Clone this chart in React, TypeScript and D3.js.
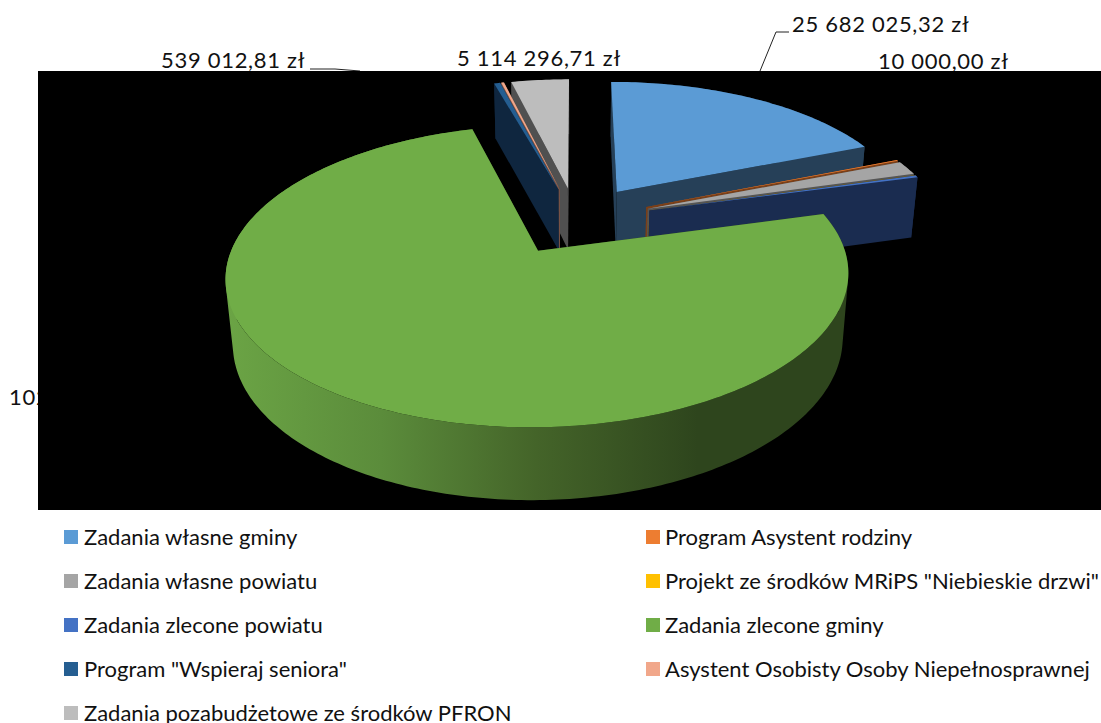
import * as d3 from "d3";

const names = [
  "Zadania własne gminy",
  "Program Asystent rodziny",
  "Zadania własne powiatu",
  'Projekt ze środków MRiPS "Niebieskie drzwi"',
  "Zadania zlecone powiatu",
  "Zadania zlecone gminy",
  'Program "Wspieraj seniora"',
  "Asystent Osobisty Osoby Niepełnosprawnej",
  "Zadania pozabudżetowe ze środków PFRON",
];
const values = [25682025.32, 150000, 2200000, 10000, 300000, 102000000, 539012.81, 250000, 5114296.71];
const topColors = ["#5B9BD5", "#ED7D31", "#A5A5A5", "#FFC000", "#4472C4", "#70AD47", "#255E91", "#F1A78A", "#BDBDBD"];
const wallColors = ["#264058", "#7A3F18", "#555555", "#7F6000", "#1A2C50", "#2E451D", "#0F263F", "#7A5345", "#505050"];
const explodeBy = [0.255, 0.26, 0.26, 0.26, 0.26, 0.25, 0.24, 0.24, 0.24];
// back to front, the big slice goes last
const drawOrder = [0, 1, 2, 3, 4, 8, 7, 6, 5];
// which slices carry a visible data label, and where the text starts
const labelIdx = [0, 3, 5, 6, 8];
const labelX = [792, 878, 9, 161, 457];
const labelY = [32, 69, 405, 68, 66];

const W = 1101;
const H = 723;
const plot = { x: 38, y: 71, w: 1063, h: 439 };

// perspective projection of the tilted pie, radius = 1
const cx = 576, cy = 220, kx = 296, ky = 136.5, persp = 0.163, depth = 64, sink = 0.02;
function project(x: number, y: number, low: boolean): [number, number] {
  const w = 1 + persp * y + (low ? sink : 0);
  return [cx + (kx * x) / w, cy + (-ky * y + (low ? depth : 0)) / w];
}

const fmt = (v: number) => {
  const [a, b] = v.toFixed(2).split(".");
  return `${a.replace(/\B(?=(\d{3})+$)/g, " ")},${b} zł`;
};

const line = d3.line();
const closed = (pts: [number, number][]) => `${line(pts)}Z`;
// same winding for every quad so overlaps at the silhouette don't cancel out
const quad = (pts: [number, number][]) => closed(d3.polygonArea(pts) < 0 ? [...pts].reverse() : pts);

interface Part { key: string; d: string; fill: string; depth: number; }

function sliceParts(i: number, a0: number, a1: number): Part[] {
  const mid = (a0 + a1) / 2;
  const ox = explodeBy[i] * Math.sin(mid);
  const oy = explodeBy[i] * Math.cos(mid);
  const steps = Math.max(2, Math.ceil((a1 - a0) * 60));
  const angles = d3.range(steps + 1).map(s => a0 + ((a1 - a0) * s) / steps);
  const rim = angles.map(a => [ox + Math.sin(a), oy + Math.cos(a)]);
  const top = rim.map(p => project(p[0], p[1], false));
  const low = rim.map(p => project(p[0], p[1], true));
  const apexT = project(ox, oy, false);
  const apexL = project(ox, oy, true);
  const side = wallColors[i];
  const outer = i === 5 ? "url(#greenSide)" : side;
  const band = d3.range(steps).map(s => quad([top[s], top[s + 1], low[s + 1], low[s]])).join("");
  return [
    { key: "o", d: band, fill: outer, depth: d3.mean(rim, p => p[1])! },
    { key: "s", d: closed([apexT, top[0], low[0], apexL]), fill: side, depth: (oy + rim[0][1]) / 2 },
    { key: "e", d: closed([apexT, top[steps], low[steps], apexL]), fill: side, depth: (oy + rim[steps][1]) / 2 },
  ]
    .sort((a, b) => b.depth - a.depth)
    .concat([{ key: "t", d: closed([apexT, ...top]), fill: topColors[i], depth: -9 }]);
}

const arcs = d3.pie<number>().sort(null).startAngle(0).endAngle(2 * Math.PI)(values);

const legendLeft = d3.scaleBand<number>().domain([0, 1, 2, 3, 4]).range([515, 735]);

export default function App() {
  const font = "Lato, Carlito, Calibri, sans-serif";
  return (
    <svg width={W} height={H} style={{ position: "absolute", left: 0, top: 0, display: "block", background: "#fff" }} fontFamily={font}>
      <defs>
        <linearGradient id="greenSide" gradientUnits="userSpaceOnUse" x1={226} x2={847} y1={0} y2={0}>
          <stop offset="0" stopColor="#6BA445" />
          <stop offset="0.25" stopColor="#5B8C3B" />
          <stop offset="0.5" stopColor="#446429" />
          <stop offset="0.76" stopColor="#2E451D" />
          <stop offset="1" stopColor="#2E451D" />
        </linearGradient>
      </defs>

      {labelIdx.map((idx, n) => (
        <text key={idx} x={labelX[n]} y={labelY[n]} fontSize={22} letterSpacing={0.7} fill="#111">
          {fmt(values[idx])}
        </text>
      ))}
      <path d={line([[760, 71], [776, 32], [789, 32]])!} fill="none" stroke="#222" strokeWidth={1} />
      <path d={line([[310, 69], [335, 69], [360, 71]])!} fill="none" stroke="#222" strokeWidth={1} />

      <rect x={plot.x} y={plot.y} width={plot.w} height={plot.h} fill="#000" />

      {drawOrder.map(i =>
        sliceParts(i, arcs[i].startAngle, arcs[i].endAngle).map(p => <path key={`${i}${p.key}`} d={p.d} fill={p.fill} />)
      )}

      {names.map((name, i) => {
        const col = i % 2;
        const row = Math.floor(i / 2);
        const y = legendLeft(row)! + 22;
        return (
          <g key={name}>
            <rect x={col ? 646 : 64} y={y - 7} width={14} height={14} fill={topColors[i]} />
            <text x={col ? 665 : 84} y={y + 8} fontSize={22} fill="#111">
              {name}
            </text>
          </g>
        );
      })}
    </svg>
  );
}
